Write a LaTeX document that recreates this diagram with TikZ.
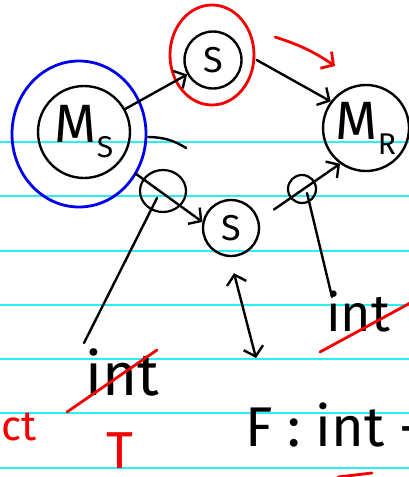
\documentclass[tikz,border=0pt]{standalone}
\usepackage{fontspec}
\setmainfont{Fira Sans}
\newfontfamily\arrowfont{DejaVu Sans}
\usepackage{xcolor}
\usepackage{tikz}
\usetikzlibrary{arrows.meta,positioning,shapes.geometric,calc}
\definecolor{penblue}{RGB}{0,0,235}
\definecolor{penred}{RGB}{245,0,0}
\definecolor{penrule}{RGB}{40,240,245}
\newcommand{\hnsize}[1]{\fontsize{#1}{#1}\selectfont}
\newcommand{\hnsub}[1]{\raisebox{-0.28em}{\hnsize{30}#1}}
\tikzset{
hnnode/.style={circle,draw,line width=2.4pt,inner sep=0pt,font=\hnsize{36}},
hnbig/.style={hnnode,minimum size=92pt,font=\hnsize{54}},
hnsmall/.style={hnnode,minimum size=56pt},
hntag/.style={ellipse,draw,line width=2.2pt,inner sep=0pt},
hnring/.style={ellipse,draw,line width=2.8pt,inner sep=0pt},
hnarr/.style={-{Straight Barb[length=9pt,width=20pt]},line width=2.4pt,line cap=round},
hnboth/.style={{Straight Barb[length=9pt,width=20pt]}-{Straight Barb[length=9pt,width=20pt]},line width=2.4pt,line cap=round},
hnline/.style={line width=2.4pt,line cap=round},
hnrule/.style={penrule,line width=1.6pt},
hnstrike/.style={penred,line width=2.8pt,line cap=round},
hntext/.style={inner sep=0pt,font=\hnsize{58}},
hnredtext/.style={hntext,text=penred}
}
\begin{document}
\begin{tikzpicture}[
x=1pt,
y=-1pt
]
\clip (0,0) rectangle (409,477);
\fill[white] (0,0) rectangle (409,477);
\foreach \y in {142,196,251,305,359,413,468}
  \draw[hnrule] (0,\y) -- (409,\y);
\node[hnring,draw=penblue,minimum width=134pt,minimum height=146pt]
  (msring) at (79,134) {};
\node[hnring,draw=penred,minimum width=84pt,minimum height=100pt]
  (sring) at (212,55) {};
\node[hnbig]
  (ms) at (84,132) {M\hnsub{S}};
\node[hnsmall,minimum size=57pt]
  (stop) at (213,60) {S};
\node[hnbig,minimum size=86pt]
  (mr) at (366,128) {M\hnsub{R}};
\node[hnsmall]
  (sbot) at (231,228) {S};
\node[hntag,minimum width=46pt,minimum height=42pt]
  (tagl) at (163,191) {};
\node[hntag,minimum width=28pt,minimum height=28pt]
  (tagr) at (302,189) {};
\node[hntext,font=\hnsize{60}]
  (intl) at (122,372) {int};
\node[hntext,font=\hnsize{52}]
  (intr) at (358,312) {int};
\node[hntext,font=\hnsize{56},anchor=west]
  (fdef) at (245,425) {F : int {\arrowfont →}};
\node[hnredtext,font=\hnsize{42},anchor=base east]
  (ctl) at (37,440) {ct};
\node[hnredtext,font=\hnsize{52},anchor=north]
  (tred) at (120,432) {T};
\coordinate (hookl) at (84,343);
\coordinate (hookr) at (332,297);
\coordinate (fpoint) at (256,358);
\coordinate (redtip) at (335,66);
\draw[hnarr] (ms) -- (stop);
\draw[hnarr] ([xshift=14]stop.east) -- (mr.143);
\draw[hnarr] ([shift={(15,12)}]ms.-39) -- (sbot.168);
\draw[hnarr] ([shift={(16,-7)}]sbot.23) -- (mr.234);
\draw[hnline] ([shift={(17,5)}]ms.east) to[bend left=15] +(38,11);
\draw[hnline] ([shift={(-6,7)}]tagl.center) -- (hookl);
\draw[hnline] ([shift={(5,4)}]tagr.center) -- (hookr);
\draw[hnboth] ([shift={(3,16)}]sbot.south) -- (fpoint);
\draw[hnarr,penred,line width=2.8pt] (275,37) to[bend left=8] (redtip);
\draw[hnstrike] (67,412) -- (157,350);
\draw[hnstrike] (320,352) -- (412,302);
\draw[hnstrike] (338,477) -- (372,473);
\end{tikzpicture}
\end{document}
